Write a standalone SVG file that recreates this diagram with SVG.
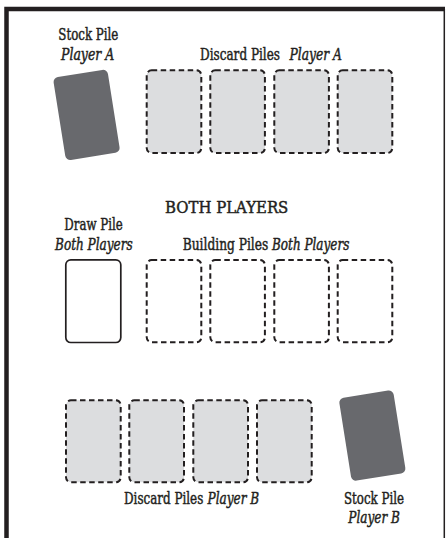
<svg xmlns="http://www.w3.org/2000/svg" width="446" height="538" viewBox="0 0 446 538">
<style>
  .lbl{font-family:"DejaVu Serif Condensed","DejaVu Serif","Liberation Serif",serif;font-size:16.5px;fill:#231f20;stroke:#231f20;stroke-width:0.45px;}
  .it{font-style:italic;}
  .dash{fill:#dcdddf;stroke:#231f20;stroke-width:2;stroke-dasharray:5.5 3.5;}
  .dashw{fill:#ffffff;stroke:#231f20;stroke-width:2;stroke-dasharray:5.5 3.5;}
  .solid{fill:#ffffff;stroke:#231f20;stroke-width:1.7;}
  .stock{fill:#68696d;}
</style>
<rect width="446" height="538" fill="#ffffff"/>
<g id="frame">
  <path d="M6.5,538 V9 H445" fill="none" stroke="#231f20" stroke-width="4.5"/>
  <line x1="444.3" y1="9" x2="444.3" y2="538" stroke="#231f20" stroke-width="1.5"/>
</g>
<g id="stock-a">
  <rect class="stock" x="59.1" y="72.9" width="55" height="84" rx="5" transform="rotate(-9 86.6 114.9)"/>
  <text class="lbl" transform="translate(58.3 40) scale(0.82 1)" textLength="73.2" lengthAdjust="spacingAndGlyphs">Stock Pile</text>
  <text class="lbl it" transform="translate(61 60) scale(0.82 1)" textLength="65" lengthAdjust="spacingAndGlyphs">Player A</text>
</g>
<g id="discard-a">
  <rect class="dash" x="146.7" y="70.3" width="54.6" height="82.7" rx="5"/>
  <rect class="dash" x="210.3" y="70.3" width="54.6" height="82.7" rx="5"/>
  <rect class="dash" x="274.3" y="70.3" width="54.6" height="82.7" rx="5"/>
  <rect class="dash" x="337.7" y="70.3" width="54.6" height="82.7" rx="5"/>
  <text class="lbl" transform="translate(200 60) scale(0.82 1)" textLength="97.6" lengthAdjust="spacingAndGlyphs">Discard Piles</text>
  <text class="lbl it" transform="translate(289.5 60) scale(0.82 1)" textLength="63.9" lengthAdjust="spacingAndGlyphs">Player A</text>
</g>
<g id="both-players">
  <text class="lbl" transform="translate(165 212.7) scale(0.82 1)" textLength="150.4" lengthAdjust="spacingAndGlyphs">BOTH PLAYERS</text>
</g>
<g id="draw-pile">
  <rect class="solid" x="65.8" y="259.8" width="55" height="82.7" rx="5"/>
  <text class="lbl" transform="translate(64.3 230) scale(0.82 1)" textLength="71.2" lengthAdjust="spacingAndGlyphs">Draw Pile</text>
  <text class="lbl it" transform="translate(55 250) scale(0.82 1)" textLength="94.8" lengthAdjust="spacingAndGlyphs">Both Players</text>
</g>
<g id="building-piles">
  <rect class="dashw" x="146.7" y="260" width="54.6" height="82.3" rx="5"/>
  <rect class="dashw" x="210.3" y="260" width="54.6" height="82.3" rx="5"/>
  <rect class="dashw" x="274.3" y="260" width="54.6" height="82.3" rx="5"/>
  <rect class="dashw" x="337.7" y="260" width="54.6" height="82.3" rx="5"/>
  <text class="lbl" transform="translate(182.7 250) scale(0.82 1)" textLength="104.4" lengthAdjust="spacingAndGlyphs">Building Piles</text>
  <text class="lbl it" transform="translate(272 250) scale(0.82 1)" textLength="94.3" lengthAdjust="spacingAndGlyphs">Both Players</text>
</g>
<g id="discard-b">
  <rect class="dash" x="66" y="400.3" width="54.7" height="82" rx="5"/>
  <rect class="dash" x="129.3" y="400.3" width="54.7" height="82" rx="5"/>
  <rect class="dash" x="193.3" y="400.3" width="54.7" height="82" rx="5"/>
  <rect class="dash" x="257" y="400.3" width="54.7" height="82" rx="5"/>
  <text class="lbl" transform="translate(124 504) scale(0.82 1)" textLength="96.7" lengthAdjust="spacingAndGlyphs">Discard Piles</text>
  <text class="lbl it" transform="translate(207.6 504) scale(0.82 1)" textLength="63" lengthAdjust="spacingAndGlyphs">Player B</text>
</g>
<g id="stock-b">
  <rect class="stock" x="344.85" y="393.6" width="55" height="84" rx="5" transform="rotate(-9 372.35 435.6)"/>
  <text class="lbl" transform="translate(344 504) scale(0.82 1)" textLength="73.2" lengthAdjust="spacingAndGlyphs">Stock Pile</text>
  <text class="lbl it" transform="translate(348.3 523.3) scale(0.82 1)" textLength="63" lengthAdjust="spacingAndGlyphs">Player B</text>
</g>
</svg>
